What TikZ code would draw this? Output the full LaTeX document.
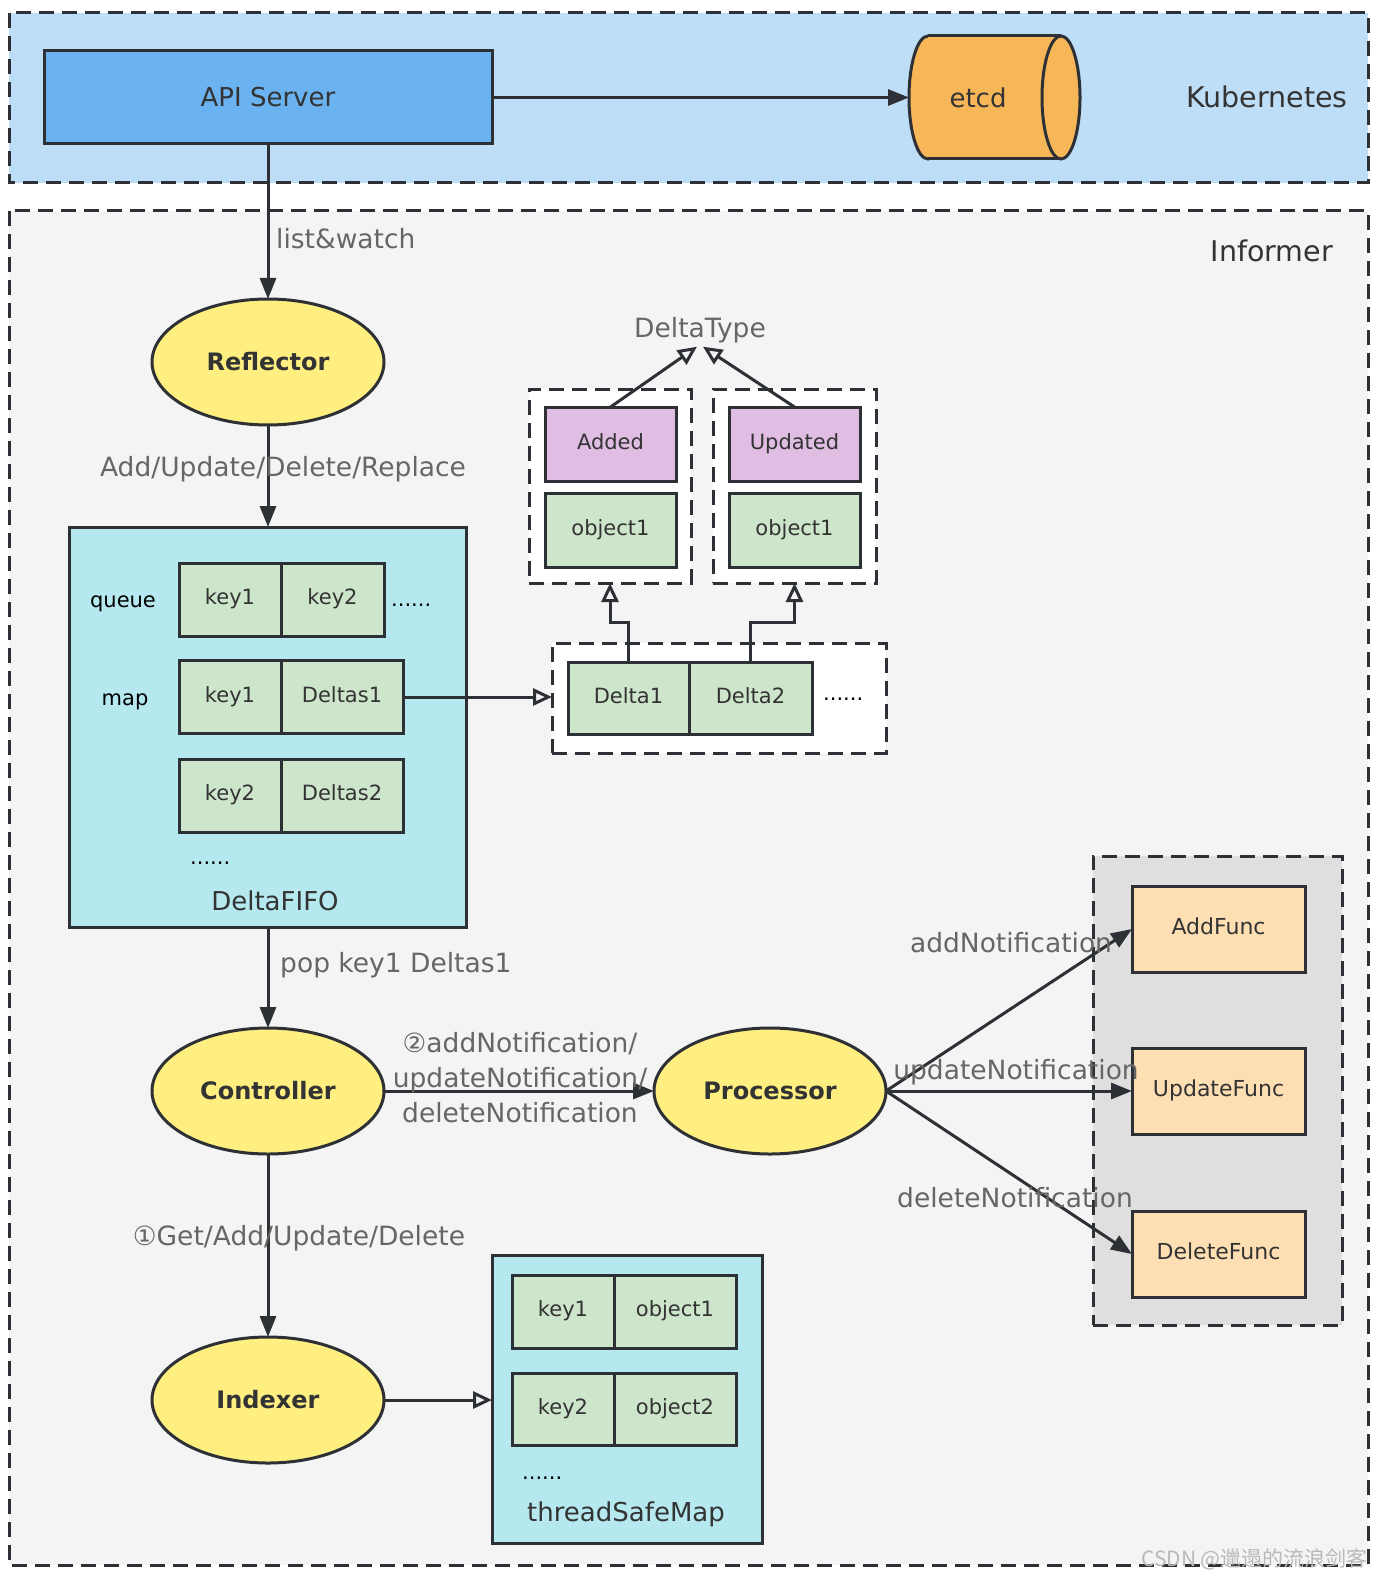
\documentclass[tikz,border=0pt]{standalone}
\usepackage{fontspec}
\setmainfont{DejaVu Sans}
\newfontfamily\cjkfont{Noto Sans CJK SC}
\usetikzlibrary{arrows.meta,shapes.geometric,positioning}

\definecolor{edgegray}{HTML}{2D3035}
\definecolor{labelgray}{HTML}{666666}
\definecolor{textdark}{HTML}{333333}
\definecolor{kubefill}{HTML}{BEDDF6}
\definecolor{apifill}{HTML}{6BB3F0}
\definecolor{etcdfill}{HTML}{F7B758}
\definecolor{informfill}{HTML}{F4F4F4}
\definecolor{ovalfill}{HTML}{FEEF80}
\definecolor{fifofill}{HTML}{B5E9EF}
\definecolor{cellfill}{HTML}{CDE5CB}
\definecolor{typefill}{HTML}{E0BDE3}
\definecolor{handlerbg}{HTML}{DFDFDF}
\definecolor{handlerfill}{HTML}{FDDFB3}

\newcommand{\titlesize}{\fontsize{28.5}{34}\selectfont}
\newcommand{\apisize}{\fontsize{26}{31}\selectfont}
\newcommand{\labelsize}{\fontsize{26.5}{35}\selectfont}
\newcommand{\ovalsize}{\fontsize{24}{29}\selectfont}
\newcommand{\cellsize}{\fontsize{21}{26}\selectfont}
\newcommand{\handlersize}{\fontsize{22}{27}\selectfont}

\begin{document}
\begin{tikzpicture}[x=1pt, y=-1pt,
  region/.style={draw=edgegray, line width=3pt, dash pattern=on 15pt off 8pt},
  dashgroup/.style={region, fill=white, inner sep=0pt, outer sep=0pt},
  box/.style={draw=edgegray, line width=3pt, inner sep=0pt, outer sep=0pt, text=textdark},
  cell/.style={box, fill=cellfill, minimum height=73pt, font=\cellsize, text height=15pt, text depth=5pt},
  typecell/.style={cell, fill=typefill, minimum width=131pt, minimum height=74pt},
  handler/.style={box, fill=handlerfill, minimum width=173pt, minimum height=86pt, font=\handlersize, text height=16pt, text depth=5pt},
  oval/.style={ellipse, draw=edgegray, line width=3pt, fill=ovalfill, inner sep=0pt, outer sep=0pt, minimum width=232pt, minimum height=126pt, font=\ovalsize\bfseries, text=textdark},
  title/.style={font=\titlesize, text=textdark, anchor=base east, inner sep=0pt},
  boxname/.style={font=\apisize, text=textdark, anchor=base, inner sep=0pt},
  lbl/.style={font=\labelsize, text=labelgray, inner sep=0pt},
  plain/.style={font=\cellsize, text=black, inner sep=0pt, anchor=base},
  dots/.style={font=\cellsize, text=black, inner sep=0pt, anchor=base west},
  drum/.style={fill=etcdfill, draw=edgegray, line width=3pt},
  flow/.style={draw=edgegray, line width=3pt, -{Triangle[length=21pt, width=16pt]}},
  hollow/.style={draw=edgegray, line width=3pt, -{Triangle[open, length=19pt, width=17pt]}}]
\useasboundingbox (0,0) rectangle (1380,1578);
\fill[white] (0,0) rectangle (1380,1578);

% Kubernetes
\draw[region, fill=kubefill] (9,13) rectangle (1368,183);
\node[box, fill=apifill, minimum width=448pt, minimum height=93pt, font=\apisize] (api) at (268,97.5) {API Server};
% etcd drum
\node[inner sep=0pt, outer sep=0pt, minimum width=171pt, minimum height=123pt] (etcd) at (994.5,97.5) {};
\filldraw[drum] (928,97.5) ellipse [x radius=19, y radius=61.5];
\fill[etcdfill] (928,36) rectangle (1061,159);
\draw[drum] (928,36) -- (1061,36) (928,159) -- (1061,159);
\filldraw[drum] (1061,97.5) ellipse [x radius=19, y radius=61.5];
\node[font=\apisize, text=textdark, inner sep=0pt] (etcdname) at (978,97.5) {etcd};
\node[title] (kube) at (1348,108) {Kubernetes};
\draw[flow] (api) -- (etcd);

% Informer
\draw[region, fill=informfill] (9,211) rectangle (1368,1565);
\node[title] (informer) at (1333,262) {Informer};

\node[oval] (reflector) at (268,362) {Reflector};
\draw[flow] (api) -- (reflector);
\node[lbl, anchor=base west] (listwatch) at (276,249) {list\&watch};

% DeltaFIFO
\node[box, fill=fifofill, minimum width=397pt, minimum height=400pt] (fifo) at (268,727) {};
\draw[flow] (reflector) -- (fifo);
\node[lbl, anchor=base] (addlbl) at (283,476) {Add/Update/Delete/Replace};
\node[plain] (queue) at (123,607) {queue};
\node[cell, minimum width=102pt] (qkey1) at (230,599.5) {key1};
\node[cell, minimum width=103pt, right=0pt of qkey1] (qkey2) {key2};
\node[dots] (qdots) at (391,606) {......};
\node[plain] (map) at (125,705) {map};
\node[cell, minimum width=102pt] (mkey1) at (230,697) {key1};
\node[cell, minimum width=122pt, right=0pt of mkey1] (mdeltas1) {Deltas1};
\node[cell, minimum width=102pt] (mkey2) at (230,795.5) {key2};
\node[cell, minimum width=122pt, right=0pt of mkey2] (mdeltas2) {Deltas2};
\node[dots] (mdots) at (190,864) {......};
\node[boxname] (fifoname) at (275,910) {DeltaFIFO};

% Deltas
\node[dashgroup, minimum width=162pt, minimum height=194pt] (addgrp) at (610,486) {};
\node[dashgroup, minimum width=163pt, minimum height=194pt] (updgrp) at (794.5,486) {};
\node[typecell] (added) at (610.5,444) {Added};
\node[cell, minimum width=131pt, minimum height=74pt] (addobj) at (610.5,530) {object1};
\node[typecell] (updated) at (794.5,444) {Updated};
\node[cell, minimum width=131pt, minimum height=74pt] (updobj) at (794.5,530) {object1};
\node[lbl, anchor=base] (deltatype) at (700,337) {DeltaType};
\draw[hollow] (added.north) -- ([xshift=-3pt, yshift=-4pt]deltatype.south);
\draw[hollow] (updated.north) -- ([xshift=3pt, yshift=-4pt]deltatype.south);

\node[dashgroup, minimum width=334pt, minimum height=110pt] (deltagrp) at (719,698) {};
\node[cell, minimum width=121pt, minimum height=72pt] (delta1) at (628.5,698) {Delta1};
\node[cell, minimum width=123pt, minimum height=72pt, right=0pt of delta1] (delta2) {Delta2};
\node[dots] (ddots) at (823,700) {......};
\draw[hollow] (mdeltas1.east) -- (mdeltas1.east -| deltagrp.west);
\draw[hollow] (delta1.north) -- ++(0,-40) -| (addgrp.south);
\draw[hollow] (delta2.north) -- ++(0,-40) -| (updgrp.south);

% Controller / Processor
\node[oval] (controller) at (268,1091) {Controller};
\draw[flow] (fifo) -- (controller);
\node[lbl, anchor=base west] (poplbl) at (280,972) {pop key1 Deltas1};
\node[oval] (processor) at (770,1091) {Processor};
\draw[flow] (controller) -- (processor);
\node[lbl, align=center] (notelbl) at (520,1078) {②addNotification/\\updateNotification/\\deleteNotification};

\node[dashgroup, fill=handlerbg, minimum width=249pt, minimum height=469pt] (handlers) at (1217.5,1090.5) {};
\node[handler] (addfunc) at (1218.5,929) {AddFunc};
\node[handler] (updatefunc) at (1218.5,1091) {UpdateFunc};
\node[handler] (deletefunc) at (1218.5,1254) {DeleteFunc};
\draw[flow] (processor.east) -- (addfunc.west);
\draw[flow] (processor.east) -- (updatefunc.west);
\draw[flow] (processor.east) -- (deletefunc.west);
\node[lbl, anchor=base] (addnote) at (1011,952) {addNotification};
\node[lbl, anchor=base] (updnote) at (1016,1079) {updateNotification};
\node[lbl, anchor=base] (delnote) at (1015,1207) {deleteNotification};

% Indexer
\node[oval] (indexer) at (268,1400) {Indexer};
\draw[flow] (controller) -- (indexer);
\node[lbl, anchor=base] (getlbl) at (299,1245) {①Get/Add/Update/Delete};
\node[box, fill=fifofill, minimum width=270pt, minimum height=288pt] (store) at (627,1399) {};
\node[cell, minimum width=102pt] (skey1) at (563,1311.5) {key1};
\node[cell, minimum width=122pt, right=0pt of skey1] (sobj1) {object1};
\node[cell, minimum width=102pt, minimum height=72pt] (skey2) at (563,1409) {key2};
\node[cell, minimum width=122pt, minimum height=72pt, right=0pt of skey2] (sobj2) {object2};
\node[dots] (sdots) at (522,1479) {......};
\node[boxname] (storename) at (626,1521) {threadSafeMap};
\draw[hollow] (indexer.east) -- (indexer.east -| store.west);

\node[font=\cjkfont\fontsize{21}{24}\selectfont, text=gray!55, anchor=base east, inner sep=0pt] (mark) at (1368,1566) {CSDN @邋遢的流浪剑客};
\end{tikzpicture}
\end{document}
